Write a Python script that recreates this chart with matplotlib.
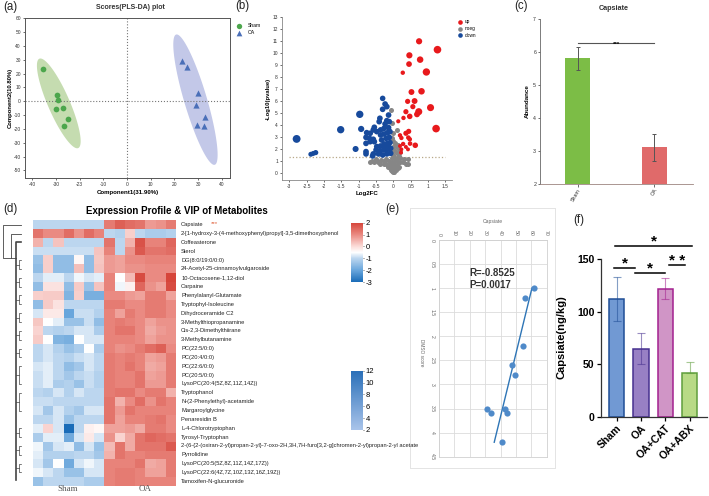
import numpy as np
import matplotlib
matplotlib.use("Agg")
import matplotlib.pyplot as plt
from matplotlib.colors import LinearSegmentedColormap, Normalize
from matplotlib.cm import ScalarMappable

plt.rcParams['font.family'] = ['Liberation Sans', 'DejaVu Sans']
plt.rcParams['axes.unicode_minus'] = False

W, H = 709, 496

# (a) scores plot
sham_x = [-35.3, -29.6, -29.2, -26.9, -30.1, -25.0, -26.5]
sham_y = [23.3, 4.6, 0.7, -4.6, -5.5, -12.5, -17.8]
oa_x = [23.4, 25.5, 30.0, 29.2, 33.0, 29.7, 32.3]
oa_y = [29.0, 25.0, 5.8, -2.4, -11.5, -17.0, -18.0]
sham_tips = [(-36.5, 31.0), (-21.0, -34.0)]
oa_tips = [(21.0, 48.4), (36.8, -46.0)]
ellipse_halfwidth = 5.0

# (b) volcano
up_x = [.74, 1.27, .46, .77, .45, .95, .27, .52, .81, .41, .61, .56, 1.07, .36, .73, .68, .47, .29, .14, 1.23,
        .44, .36, .19, .23, .43, .48, .63, .28, .19, .36, .23, .22, .42, .47]
up_y = [10.95, 10.25, 9.78, 9.42, 9.05, 8.39, 8.33, 6.72, 6.78, 5.94, 5.97, 5.5, 5.42, 5.08, 5.08, 4.86, 4.69, 4.56,
        4.28, 3.67, 3.44, 3.28, 3.11, 2.89, 2.92, 2.42, 2.28, 2.39, 2.22, 2.14, 1.94, 1.67, 1.94, 2.78]
up_s = [20, 30, 20, 22, 17, 28, 10, 18, 22, 14, 18, 14, 26, 14, 26, 18, 16, 10, 9, 30,
        14, 14, 10, 10, 11, 11, 16, 10, 8, 8, 8, 8, 8, 11]
down_x = [-2.79, -2.24, -2.38, -2.31, -1.52, -.97, -.93, -1.09, -.31, -.24, -.19, -.31, -.14,
          -.39, -.41, -.19, -.24, -.12, -.55, -.58, -.77, -.67, -.48, -.37, -.27, -.14, -.79, -.69, -.58, -.55, -.79,
          -.67, -.37, -.27, -.17, -.1, -.34, -.21, -.12, -.48, -.37, -.27, -.17, -.1, -.5, -.38, -.27, -.17, -.08,
          -.79, -.79, -.58, -.6, -.43, -.31, -.19, -.08, -.27, -.14]
down_y = [2.81, 1.67, 1.53, 1.6, 3.58, 4.86, 3.64, 1.97, 6.19, 5.72, 5.5, 5.28, 4.8,
          4.53, 4.25, 4.33, 4.06, 4.25, 3.78, 3.56, 3.33, 3.28, 3.42, 3.56, 3.69, 3.75, 2.94, 2.86, 2.78, 2.58, 2.44,
          2.58, 3.14, 3.22, 3.33, 3.42, 2.72, 2.86, 2.94, 2.17, 2.22, 2.39, 2.44, 2.5, 1.89, 1.83, 1.89, 1.94, 2.03,
          1.75, 1.56, 1.56, 1.39, 1.56, 1.47, 1.56, 1.61, 2.17, 2.17]
down_s = [32, 14, 13, 13, 28, 28, 20, 19, 16] + [17] * 50
noeg_x = [-.08, -.05, .09, 0, -.03, 0, .05, .12, .1, .03, .15, .18, .05, 0, .1, .15, -.02, -.05, .03, .1, .2, .3, .42,
          .37, .43, .27, .2, .12, .05, -.03, -.12, -.2, -.27, -.35, -.43, -.5, -.55, -.63, -.68, -.38, -.28, -.2, -.12,
          -.05, .02, .1, .17, .12, .05, -.03, -.1, -.17, -.08, 0, .03, -.02, .07, -.05]
noeg_y = [5.2, 4.1, 3.55, 3.3, 2.9, 2.6, 2.5, 2.3, 2.1, 2.2, 2.0, 1.7, 1.8, 1.9, 1.6, 1.4, 1.5, 1.2, 1.3, 1.2, 1.25, 1.1,
          1.1, .7, .7, .85, .9, .9, 1.0, .9, 1.0, 1.1, 1.0, 1.05, .9, 1.1, .9, .95, .85, .7, .75, .7, .65,
          .6, .65, .6, .5, .35, .4, .35, .4, .45, .2, .15, .05, .02, .2, .1]

# (c) capsiate abundance
c_groups = ['Sham', 'OA']
c_means = [5.8, 3.1]
c_err = [0.34, 0.41]

# (d) heatmap
metabolites = ['Capsiate', '2-[1-hydroxy-3-(4-methoxyphenyl)propyl]-3,5-dimethoxyphenol', 'Coffeasterone', 'Sterol',
               'DG(8:0/19:0/0:0)', '24-Acetyl-25-cinnamoylvulgaroside', '10-Octacosene-1,12-diol', 'Carpaine',
               'Phenylalanyl-Glutamate', 'Tryptophyl-Isoleucine', 'Dihydroceramide C2', '3-Methylthiopropanamine',
               'Cis-2,3-Dimethylthiirane', '3-Methylbutanamine', 'PC(22:5/0:0)', 'PC(20:4/0:0)', 'PC(22:6/0:0)',
               'PC(20:5/0:0)', 'LysoPC(20:4(5Z,8Z,11Z,14Z))', 'Tryptophanol', 'N-(2-Phenylethyl)-acetamide',
               'Margaroylglycine', 'Penaresidin B', 'L-4-Chlorotryptophan', 'Tyrosyl-Tryptophan',
               '2-(6-{2-(oxiran-2-yl)propan-2-yl}-7-oxo-2H,3H,7H-furo[3,2-g]chromen-2-yl)propan-2-yl acetate',
               'Pyrrolidine', 'LysoPC(20:5(5Z,8Z,11Z,14Z,17Z))', 'LysoPC(22:6(4Z,7Z,10Z,13Z,16Z,19Z))',
               'Tamoxifen-N-glucuronide']
expr = [
    [-1, -1, -1, -1, -1, -1, -1, 1.2, 1.6, 1.4, 1.3, .8, .9, 1.2],
    [1.3, 1, 1, 1.4, .9, 1.4, 1.1, -1, -1.1, .15, -1, -1.2, -1.2, -1.1],
    [.5, -1, .3, -1, -1, -1, -1, 1.3, -1, .5, 1.8, 1.1, 1.1, 1.5],
    [-.9, -.9, -.9, -.9, -.9, -.9, .3, 1.1, -1, .9, 1.7, 1.3, 1.3, 1.4],
    [-1.4, .15, -1.5, -1.5, -.4, -1.5, .25, .8, .7, 1, 1, 1.1, 1.1, 1.1],
    [-1.5, .15, -1.5, -1.5, .35, -1.5, .3, .8, .7, .9, .9, 1, 1, 1],
    [-1, -.7, -.7, -1, -.6, -.8, -.7, 1.1, -.5, .4, 1.9, 1, 1, 2],
    [-1.5, -.1, -.1, -1.5, .2, -1.4, .3, 1.1, -.6, -.3, 1.5, .9, .7, 1.9],
    [.15, .2, .2, -1.7, .15, -1.8, -1.8, 1, 1, .8, .7, 1.2, 1.2, .7],
    [-1.5, .2, -.1, -1, -1, -1, -1, 1.2, 1.2, 1, 1, 1.2, 1.2, 1],
    [-.8, -.2, -.2, -2, -.9, -.9, -1.1, 1.1, .7, 1.2, 1, 1.2, 1.2, 1],
    [.25, -.5, -.7, -1.4, -1.4, -.9, -1.5, 1.1, 1.2, 1.1, 1, .7, .9, .9],
    [.1, -1, -1.1, -1, -.8, -.8, -1.2, 1.1, 1.3, 1.3, 1, .6, .8, .9],
    [.2, -.5, -1.7, -1.8, -.5, -.8, -.8, 1.1, 1.1, 1.1, 1, .7, .9, .9],
    [-1, -.8, -1.1, -1.4, -1.2, -.5, -1.2, 1.1, .9, 1, 1.2, 1.4, 1.6, 1],
    [-1, -.8, -1, -1.1, -.9, -.8, -1, 1.2, 1.1, 1.2, 1.1, .7, .8, 1.2],
    [-.8, -.7, -1, -1.5, -1.3, -.8, -1, 1.2, 1.1, 1.3, 1.1, .6, .7, 1.2],
    [-.9, -.7, -1, -1.3, -1, -.9, -1.1, 1.2, 1.1, 1.1, 1.3, .7, .8, 1.2],
    [-.9, -.7, -1.2, -1.1, -1.4, -.9, -1.1, 1.2, 1.1, 1.1, 1.3, .8, .8, 1.2],
    [-1, -1.1, -.8, -1.1, -.8, -1, -1, 1.2, 1.3, 1.3, 1, 1.2, 1.2, .5],
    [-.9, -.9, -1, -1, -1, -1, -1, 1.3, .5, 1, 1.4, .9, 1.3, 1.1],
    [-.8, -1.3, -.8, -1.1, -1.3, -.8, -.8, 1.3, .8, 1.3, 1.1, 1.1, 1.1, 1.1],
    [-1, -1, -.8, -1.4, -1, -1, -1, 1.3, .7, 1.1, 1.1, 1.2, 1.3, 1],
    [-.7, .1, -.8, -3, -1, -.3, -.4, .7, .7, .8, .6, 1.2, 1.2, 1],
    [-1.2, -.7, -.7, -1.9, -.8, -.2, -.8, .9, .1, .6, 1.3, 1.5, 1.4, 1.3],
    [-.6, -1.3, -.8, -.7, -1.5, -.8, -1.4, .4, 1.3, .6, 1.3, 1.3, 1.3, 1.7],
    [-.7, -1.1, -1.1, -1.1, -1, -1, -1.3, .5, 1.3, 1.1, 1.1, 1.2, 1.2, 1.2],
    [-.8, -1.3, -.5, -1.9, -.8, -.6, -.8, 1.1, 1.1, 1.1, 1.3, .6, .7, 1.2],
    [-.6, -.8, -1, -1.4, -1.4, -.8, -.8, 1.1, 1.2, 1.2, 1.1, .7, .7, 1.2],
    [-1.4, -1, -1, -1, -1, -1.2, -1.2, 1.1, 1.2, 1.2, 1.1, 1.1, 1.1, 1.1],
]

# (e) correlation
score = [1.0, 1.2, 2.2, 2.6, 2.8, 3.5, 3.6, 3.5, 3.6, 4.2]
capsiate = [61.7, 55.7, 54.6, 47.4, 49.3, 30.9, 33.9, 43.0, 44.1, 40.9]
fit_score = [1.0, 4.2]
fit_capsiate = [60.4, 35.9]

# (f) bars
f_groups = ['Sham', 'OA', 'OA+CAT', 'OA+ABX']
f_means = [112, 65, 122, 42]
f_upper = [133, 80, 132, 52]
f_lower = [91, 50, 112, 42]
f_fill = ['#7199d3', '#9880c4', '#d095c6', '#b8da86']
f_edge = ['#1f4e96', '#46308f', '#a3218f', '#5f9e3c']
f_sig = [(-0.05, 3.1, 163, '*'), (-0.1, 0.77, 142, '*'), (0.77, 2.0, 137, '*'), (2.16, 2.8, 144.6, '* *')]


def px_axes(x0, y0, x1, y1):
    return fig.add_axes([x0 / W, 1 - y1 / H, (x1 - x0) / W, (y1 - y0) / H])


def ellipse(tips, hw):
    (xa, ya), (xb, yb) = tips
    t = np.linspace(0, 2 * np.pi, 120)
    cx, cy = (xa + xb) / 2, (ya + yb) / 2
    return cx + (xa - xb) / 2 * np.cos(t) + hw * np.sin(t), cy + (ya - yb) / 2 * np.cos(t)


fig = plt.figure(figsize=(7.09, 4.96), dpi=100)

# panel a
ax = px_axes(25, 18, 230.3, 178)
ex, ey = ellipse(sham_tips, ellipse_halfwidth)
ax.fill(ex, ey, color='#c5dcb0', lw=0)
ex, ey = ellipse(oa_tips, ellipse_halfwidth)
ax.fill(ex, ey, color='#c3c8e8', lw=0)
ax.axhline(0, color='#777777', ls=':', lw=0.8)
ax.axvline(0, color='#777777', ls=':', lw=0.8)
ax.scatter(sham_x, sham_y, s=17, color='#4ca64c', lw=0, zorder=3)
ax.scatter(oa_x, oa_y, s=20, marker='^', color='#4a6fb8', lw=0, zorder=3)
ax.set_xlim(-43, 43.6)
ax.set_ylim(-55.5, 60.3)
ax.set_xticks(range(-40, 41, 10))
ax.set_xticklabels(['-40', '-30', '-23', '-10', '0', '10', '20', '30', '40'])
ax.set_yticks(range(-50, 61, 10))
ax.tick_params(labelsize=3.5, length=1.5, width=0.5, pad=1.5, colors='#333333')
for s in ax.spines.values():
    s.set_linewidth(0.7)
    s.set_color('#555555')
ax.set_xlabel('Component1(31.90%)', fontsize=4.4, fontweight='bold', labelpad=2)
ax.set_ylabel('Component2(10.80%)', fontsize=4.2, fontweight='bold', labelpad=1)

# panel b
ax = px_axes(281.7, 16.7, 451.7, 180.3)
ax.axhline(1.3, xmin=0.045, xmax=0.96, color='#b8a888', ls=':', lw=0.9)
ax.scatter(noeg_x, noeg_y, s=13, color='#868686', lw=0, zorder=2)
ax.scatter(down_x, down_y, s=down_s, color='#174a9c', lw=0, zorder=3)
ax.scatter(up_x, up_y, s=up_s, color='#e8191c', lw=0, zorder=3)
ax.set_xlim(-3.22, 1.68)
ax.set_ylim(-0.64, 13)
ax.set_xticks(np.arange(-3, 1.6, 0.5))
ax.set_xticklabels(['-3', '-2.5', '-2', '-1.5', '-1', '-0.5', '0', '0.5', '1', '1.5'])
ax.set_yticks(range(0, 14))
ax.tick_params(labelsize=3.5, length=1.5, width=0.5, pad=1.2, colors='#333333')
for s in ['top', 'right']:
    ax.spines[s].set_visible(False)
for s in ['left', 'bottom']:
    ax.spines[s].set_linewidth(0.6)
    ax.spines[s].set_color('#888888')
ax.set_xlabel('Log2FC', fontsize=4.4, fontweight='bold', labelpad=1.5)
ax.set_ylabel('-Log10(pvalue)', fontsize=4.2, fontweight='bold', labelpad=1.5)

# panel c
ax = px_axes(540.3, 18.7, 692.7, 183.7)
ax.bar([0, 1], c_means, width=0.33, color=['#7cbd46', '#e06a6a'], zorder=2)
ax.errorbar([0, 1], c_means, yerr=c_err, fmt='none', ecolor='#555555', elinewidth=0.7, capsize=1.5, capthick=0.7, zorder=3)
ax.plot([0, 1], [6.26, 6.26], color='#555555', lw=0.8)
ax.text(0.5, 6.22, '***', ha='center', va='center', fontsize=4.5, fontweight='bold')
ax.set_xlim(-0.49, 1.5)
ax.set_ylim(2, 7)
ax.set_xticks([0, 1])
ax.set_xticklabels(c_groups, rotation=60, ha='right', rotation_mode='anchor')
ax.set_yticks(range(2, 8))
ax.tick_params(labelsize=3.8, length=1.8, width=0.5, pad=1.2, colors='#333333')
for s in ['top', 'right']:
    ax.spines[s].set_visible(False)
ax.spines['left'].set_linewidth(0.6)
ax.spines['left'].set_color('#666666')
ax.spines['bottom'].set_linewidth(0.6)
ax.spines['bottom'].set_color('#9c8580')
ax.set_ylabel('Abundance', fontsize=4.5, fontweight='bold', labelpad=2.5)

# panel d
heat_cmap = LinearSegmentedColormap.from_list('expr', [(0, '#1a6cb8'), (0.2, '#69a6dc'), (0.4, '#bcd6ef'), (0.5, '#ffffff'),
                                                       (0.6, '#fbdcd9'), (0.8, '#ea8a82'), (1, '#d6453a')])
heat_norm = Normalize(-3, 2)
ax = px_axes(33.3, 220.3, 176, 485.7)
ax.imshow(np.array(expr), cmap=heat_cmap, norm=heat_norm, aspect='auto', interpolation='nearest')
ax.axis('off')

cax = px_axes(351, 222.7, 363, 282)
cb = fig.colorbar(ScalarMappable(heat_norm, heat_cmap), cax=cax, ticks=[-3, -2, -1, 0, 1, 2])
cb.outline.set_visible(False)
cb.ax.tick_params(labelsize=5.5, length=1, width=0.4, pad=1)

vip_cmap = LinearSegmentedColormap.from_list('vip', ['#a9c4ea', '#2a6fb8'])
cax = px_axes(351, 370.7, 363, 430)
cb = fig.colorbar(ScalarMappable(Normalize(2, 12), vip_cmap), cax=cax, ticks=[2, 4, 6, 8, 10, 12])
cb.outline.set_visible(False)
cb.ax.tick_params(labelsize=5.5, length=1, width=0.4, pad=1)

# panel e, card behind the plot
card = fig.add_axes([410 / W, 1 - 468 / H, 145 / W, 260 / H])
card.set_xticks([])
card.set_yticks([])
for s in card.spines.values():
    s.set_color('#e4e4e4')
    s.set_linewidth(0.7)

ax = px_axes(439, 240, 546.7, 456.7)
ax.grid(color='#dcdcdc', lw=0.6)
ax.set_axisbelow(True)
ax.plot(fit_capsiate, fit_score, color='#2e75b6', lw=1)
ax.scatter(capsiate, score, s=20, color='#4f8ac9', lw=0, zorder=3)
ax.set_xlim(0, 70)
ax.set_ylim(4.5, 0)
ax.xaxis.tick_top()
ax.set_xticks(range(0, 71, 10))
ax.set_yticks(np.arange(0, 4.6, 0.5))
ax.set_yticklabels(['0', '0.5', '1', '1.5', '2', '2.5', '3', '3.5', '4', '4.5'])
ax.tick_params(labelsize=3.7, length=0, pad=3, colors='#666666')
plt.setp(ax.get_xticklabels(), rotation=-90)
plt.setp(ax.get_yticklabels(), rotation=-90, va='center')
for s in ax.spines.values():
    s.set_color('#d0d0d0')
    s.set_linewidth(0.6)
ax.text(20, 0.68, 'R=-0.8525', fontsize=7, fontweight='bold', color='#333333', va='center')
ax.text(20, 0.93, 'P=0.0017', fontsize=7, fontweight='bold', color='#333333', va='center')

# panel f
ax = px_axes(601, 259.3, 706.7, 417)
x = np.arange(4)
ax.bar(x, f_means, width=0.63, color=f_fill, edgecolor=f_edge, linewidth=1.1, zorder=2)
for i in x:
    ax.errorbar(i, f_means[i], yerr=[[f_means[i] - f_lower[i]], [f_upper[i] - f_means[i]]], fmt='none',
                ecolor=f_edge[i], alpha=0.55, elinewidth=0.8, capsize=2.8, capthick=0.8, zorder=3)
for x0, x1, y, star in f_sig:
    ax.plot([x0, x1], [y, y], color='black', lw=1.1, clip_on=False)
    ax.text((x0 + x1) / 2, y + 4, star, ha='center', va='center', fontsize=11, fontweight='bold', clip_on=False)
ax.set_xlim(-0.64, 3.7)
ax.set_ylim(0, 150)
ax.set_xticks(x)
ax.set_xticklabels(f_groups, rotation=45, ha='right', rotation_mode='anchor', fontweight='bold')
ax.set_yticks([0, 50, 100, 150])
ax.set_yticklabels(['0', '50', '100', '150'], fontweight='bold')
ax.tick_params(labelsize=7.6, length=3, width=0.9, pad=1.5)
for s in ['top', 'right']:
    ax.spines[s].set_visible(False)
for s in ['left', 'bottom']:
    ax.spines[s].set_linewidth(0.9)
    ax.spines[s].set_color('#333333')

# overlay in image pixels, for captions, legends and the row tree
ov = fig.add_axes([0, 0, 1, 1], zorder=5)
ov.patch.set_alpha(0)
ov.set_xlim(0, W)
ov.set_ylim(H, 0)
ov.axis('off')

for txt, xp, yp in [('(a)', 3, 7), ('(b)', 235, 6), ('(c)', 514, 6), ('(d)', 3, 209), ('(e)', 385, 209), ('(f)', 573, 220)]:
    ov.text(xp, yp, txt, fontsize=8.3, va='center', color='#222222')

ov.text(130, 7.5, 'Scores(PLS-DA) plot', fontsize=5, fontweight='bold', ha='center', va='center', color='#333333')
ov.text(614, 8, 'Capsiate', fontsize=5.2, fontweight='bold', ha='center', va='center', color='#333333')
ov.text(176.5, 210.5, 'Expression Profile & VIP of Metabolites', fontsize=7, fontweight='bold', ha='center', va='center')

ov.scatter([239], [25.5], s=15, color='#4ca64c', lw=0)
ov.scatter([239], [32.5], s=17, marker='^', color='#4a6fb8', lw=0)
ov.text(248, 25.5, 'Sham', fontsize=3.6, va='center')
ov.text(248, 32.5, 'OA', fontsize=3.6, va='center')
for yp, col, lab in [(21.7, '#e8191c', 'up'), (28.7, '#868686', 'noeg'), (35.3, '#174a9c', 'down')]:
    ov.scatter([460], [yp], s=11, color=col, lw=0)
    ov.text(464.5, yp, lab, fontsize=3.4, va='center')

row_h = (485.7 - 220.3) / len(metabolites)
for i, name in enumerate(metabolites):
    ov.text(181, 220.3 + row_h * (i + 0.5), name, fontsize=4.15, va='center', color='#222222')
ov.text(211, 223.5, '***', fontsize=4.5, color='#e0603a', va='center')
ov.text(68, 489, 'Sham', fontsize=6.5, family='Liberation Serif', ha='center', va='center', color='#555555')
ov.text(145, 489, 'OA', fontsize=6.5, family='Liberation Serif', ha='center', va='center', color='#555555')

ov.text(421, 353, 'DMSO score', fontsize=3.4, rotation=-90, ha='center', va='center', color='#666666')
ov.text(493, 221.5, 'Capsiate', fontsize=3.6, ha='center', va='center', color='#666666')
ov.text(561.5, 337, 'Capsiate(ng/kg)', fontsize=8, fontweight='bold', rotation=90, ha='center', va='center')

# row tree
tree_col = '#444444'
row_y = lambda r: 220.3 + row_h * (r + 0.5)
ov.plot([21, 2.7, 2.7, 10.7], [row_y(0), row_y(0), 257.7, 257.7], color=tree_col, lw=0.6)
ov.plot([21, 10.7, 10.7, 15.7], [row_y(1), row_y(1), 258, 258], color=tree_col, lw=0.6)
ov.plot([21, 15.7, 15.7], [row_y(2), row_y(2), 480], color=tree_col, lw=1.2)
brackets = [(4, 5), (6, 7), (8, 9), (10, 11), (12, 13), (14, 15), (16, 18), (19, 21), (23, 24), (25, 26), (27, 28)]
for a, b in brackets:
    ov.plot([21, 19, 19, 21], [row_y(a), row_y(a), row_y(b), row_y(b)], color=tree_col, lw=0.5)
    ov.plot([15.7, 19], [row_y((a + b) / 2)] * 2, color=tree_col, lw=0.5)

fig.savefig('out.png', dpi=100)
